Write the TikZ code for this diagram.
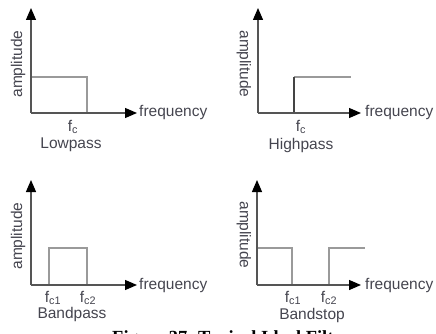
\documentclass[tikz,border=0pt]{standalone}
\usepackage{fontspec}
\setmainfont{Liberation Sans}
\newfontfamily\capfont{Liberation Serif}
\usetikzlibrary{arrows.meta}
\definecolor{axisgray}{HTML}{555555}
\definecolor{curvegray}{HTML}{9A9A9A}
\definecolor{darkline}{HTML}{444444}
\definecolor{labelink}{HTML}{45454F}
\begin{document}
\begin{tikzpicture}[x=1pt,y=-1pt,
  axis/.style={draw=axisgray,line width=1.3pt,
    -{Triangle[length=12pt,width=10pt,fill=black,color=black]}},
  response/.style={draw=curvegray,line width=1.7pt},
  edge/.style={draw=darkline,line width=1.3pt},
  lbl/.style={inner sep=0pt,text=labelink,font=\fontsize{15.5}{17}\selectfont},
  ampl/.style={lbl,rotate=90},
  amplr/.style={lbl,rotate=-90}]
\useasboundingbox (0,0) rectangle (436,334);
\clip (0,0) rectangle (436,334);

% ---- Lowpass ----
\coordinate (o1) at (31,113);
\coordinate (y1) at (31,8);
\coordinate (x1) at (137,113);
\coordinate (lp1) at (31,77);
\coordinate (lp2) at (87,77);
\coordinate (lp3) at (87,113);
\draw[response] (lp1) -- (lp2) -- (lp3);
\draw[axis] (o1) -- (y1);
\draw[axis] (o1) -- (x1);
\node[lbl,anchor=west] (f1) at (139,113) {frequency};
\node[ampl] (a1) at (18,64) {amplitude};
\node[lbl] (c1) at (73,127) {f\textsubscript{c}};
\node[lbl] (n1) at (71,145) {Lowpass};

% ---- Highpass ----
\coordinate (o2) at (258,113);
\coordinate (y2) at (258,8);
\coordinate (x2) at (361,113);
\coordinate (hp1) at (294,113);
\coordinate (hp2) at (294,77);
\coordinate (hp3) at (351,77);
\draw[response,line width=2pt] (hp2) -- (hp3);
\draw[edge] (hp1) -- (hp2);
\draw[axis] (o2) -- (y2);
\draw[axis] (o2) -- (x2);
\node[lbl,anchor=west] (f2) at (365,113) {frequency};
\node[amplr] (a2) at (244,64) {amplitude};
\node[lbl] (c2) at (301,127) {f\textsubscript{c}};
\node[lbl] (n2) at (301,145) {Highpass};

% ---- Bandpass ----
\coordinate (o3) at (31,285);
\coordinate (y3) at (31,180);
\coordinate (x3) at (137,285);
\coordinate (bp1) at (49,285);
\coordinate (bp2) at (49,248);
\coordinate (bp3) at (87,248);
\coordinate (bp4) at (87,285);
\draw[response] (bp1) -- (bp2) -- (bp3) -- (bp4);
\draw[axis] (o3) -- (y3);
\draw[axis] (o3) -- (x3);
\node[lbl,anchor=west] (f3) at (139,285) {frequency};
\node[ampl] (a3) at (18,236) {amplitude};
\node[lbl] (c31) at (53,298) {f\textsubscript{c1}};
\node[lbl] (c32) at (88,298) {f\textsubscript{c2}};
\node[lbl] (n3) at (72,314) {Bandpass};

% ---- Bandstop ----
\coordinate (o4) at (257,285);
\coordinate (y4) at (257,180);
\coordinate (x4) at (361,285);
\coordinate (bs1) at (257,248);
\coordinate (bs2) at (292,248);
\coordinate (bs3) at (292,285);
\coordinate (bs4) at (329,285);
\coordinate (bs5) at (329,248);
\coordinate (bs6) at (365,248);
\draw[response] (bs1) -- (bs2) -- (bs3);
\draw[response] (bs4) -- (bs5) -- (bs6);
\draw[axis] (o4) -- (y4);
\draw[axis] (o4) -- (x4);
\node[lbl,anchor=west] (f4) at (365,285) {frequency};
\node[amplr] (a4) at (244,235) {amplitude};
\node[lbl] (c41) at (293,298) {f\textsubscript{c1}};
\node[lbl] (c42) at (329,298) {f\textsubscript{c2}};
\node[lbl] (n4) at (312,315) {Bandstop};

% ---- caption, running off the lower edge ----
\node[inner sep=0pt,anchor=base west,font=\capfont\bfseries\fontsize{18.5}{20}\selectfont]
  (cap) at (112,343) {Figure 37. Typical Ideal Filters};
\end{tikzpicture}
\end{document}
